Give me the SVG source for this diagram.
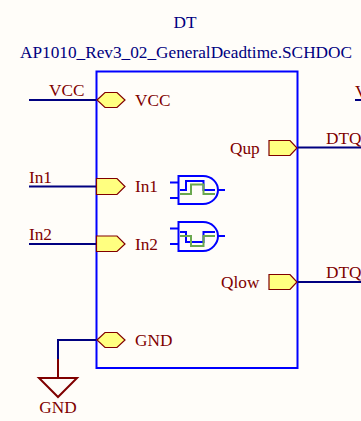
<svg xmlns="http://www.w3.org/2000/svg" width="361" height="421" viewBox="0 0 361 421">
<style>
text{font-family:"Liberation Serif","Times New Roman",serif;font-size:17.25px;fill:#800000}
.t{fill:#000080}
.w{fill:none;stroke:#000080;stroke-width:2}
.p{fill:#ffff80;stroke:#800000;stroke-width:1.2;stroke-linejoin:miter}
.b{fill:none;stroke:#0000ff;stroke-width:2}
.g{fill:none;stroke:#6aa84f;stroke-width:2}
</style>
<rect width="361" height="421" fill="#fffdf9"/>
<g id="title">
<text class="t" x="185" y="28" text-anchor="middle">DT</text>
<text class="t" x="186" y="58" text-anchor="middle">AP1010_Rev3_02_GeneralDeadtime.SCHDOC</text>
</g>
<g id="sheet"><rect class="b" x="96.500" y="71.500" width="201" height="296.500"/></g>
<g id="connectors">
<path class="w" d="M29 100H96"/>
<path class="w" d="M29 186.500H96"/>
<path class="w" d="M29 244H96"/>
<path class="w" d="M96 340H58V360"/>
<path class="w" d="M298 147.500H361"/>
<path class="w" d="M298 282H361"/>
<path class="w" d="M355 100H361"/>
<path d="M58 359V378" fill="none" stroke="#800000" stroke-width="2"/>
</g>
<g id="port-vcc"><path class="p" d="M97 100L105 92.500H117L125 100L117 107.500H105Z"/><text x="135" y="106">VCC</text></g>
<g id="port-in1"><path class="p" d="M96.500 178.500H117L125 186.500L117 194.500H96.500Z"/><text x="135" y="192">In1</text></g>
<g id="port-in2"><path class="p" d="M96.500 236H117L125 244L117 251.500H96.500Z"/><text x="135" y="250">In2</text></g>
<g id="port-gnd"><path class="p" d="M97 340L105 332.500H117L125 340L117 347.500H105Z"/><text x="135" y="346">GND</text></g>
<g id="port-qup"><path class="p" d="M269 140.500H290L297 148L290 155.500H269Z"/><text x="230" y="154">Qup</text></g>
<g id="port-qlow"><path class="p" d="M269 274.500H290L297 282L290 289.500H269Z"/><text x="221" y="288">Qlow</text></g>
<g id="label-vcc-net"><text x="49" y="95.500">VCC</text></g>
<g id="label-in1-net"><text x="29" y="183">In1</text></g>
<g id="label-in2-net"><text x="29" y="240">In2</text></g>
<g id="label-dtq1"><text x="326" y="144">DTQ</text></g>
<g id="label-dtq2"><text x="326" y="278">DTQ</text></g>
<g id="label-v"><text x="355" y="97">V</text></g>
<g id="gnd-symbol"><path d="M39 378H77L58 397Z" fill="none" stroke="#800000" stroke-width="2"/><text x="58" y="413" text-anchor="middle">GND</text></g>
<g id="gate-1">
<path class="b" d="M178.500 176H203C212 176 218 183 218 190C218 197 212 204 203 204H178.500Z"/>
<path class="b" d="M170 182.500H178.500M170 198H178.500M218 190H225"/>
<path class="b" d="M180 190H186V181H203.500V190H215"/>
<path class="g" d="M180 194H191V184.500H203.500V194H215"/>
</g>
<g id="gate-2">
<path class="b" d="M178.500 222H203C212 222 218 229 218 236C218 243 212 251 203 251H178.500Z"/>
<path class="b" d="M170 228.500H178.500M170 244H178.500M218 236H225"/>
<path class="b" d="M180 232H186V242H203.500V232H215"/>
<path class="g" d="M180 236H191V246H203.500V236H215"/>
</g>
</svg>
